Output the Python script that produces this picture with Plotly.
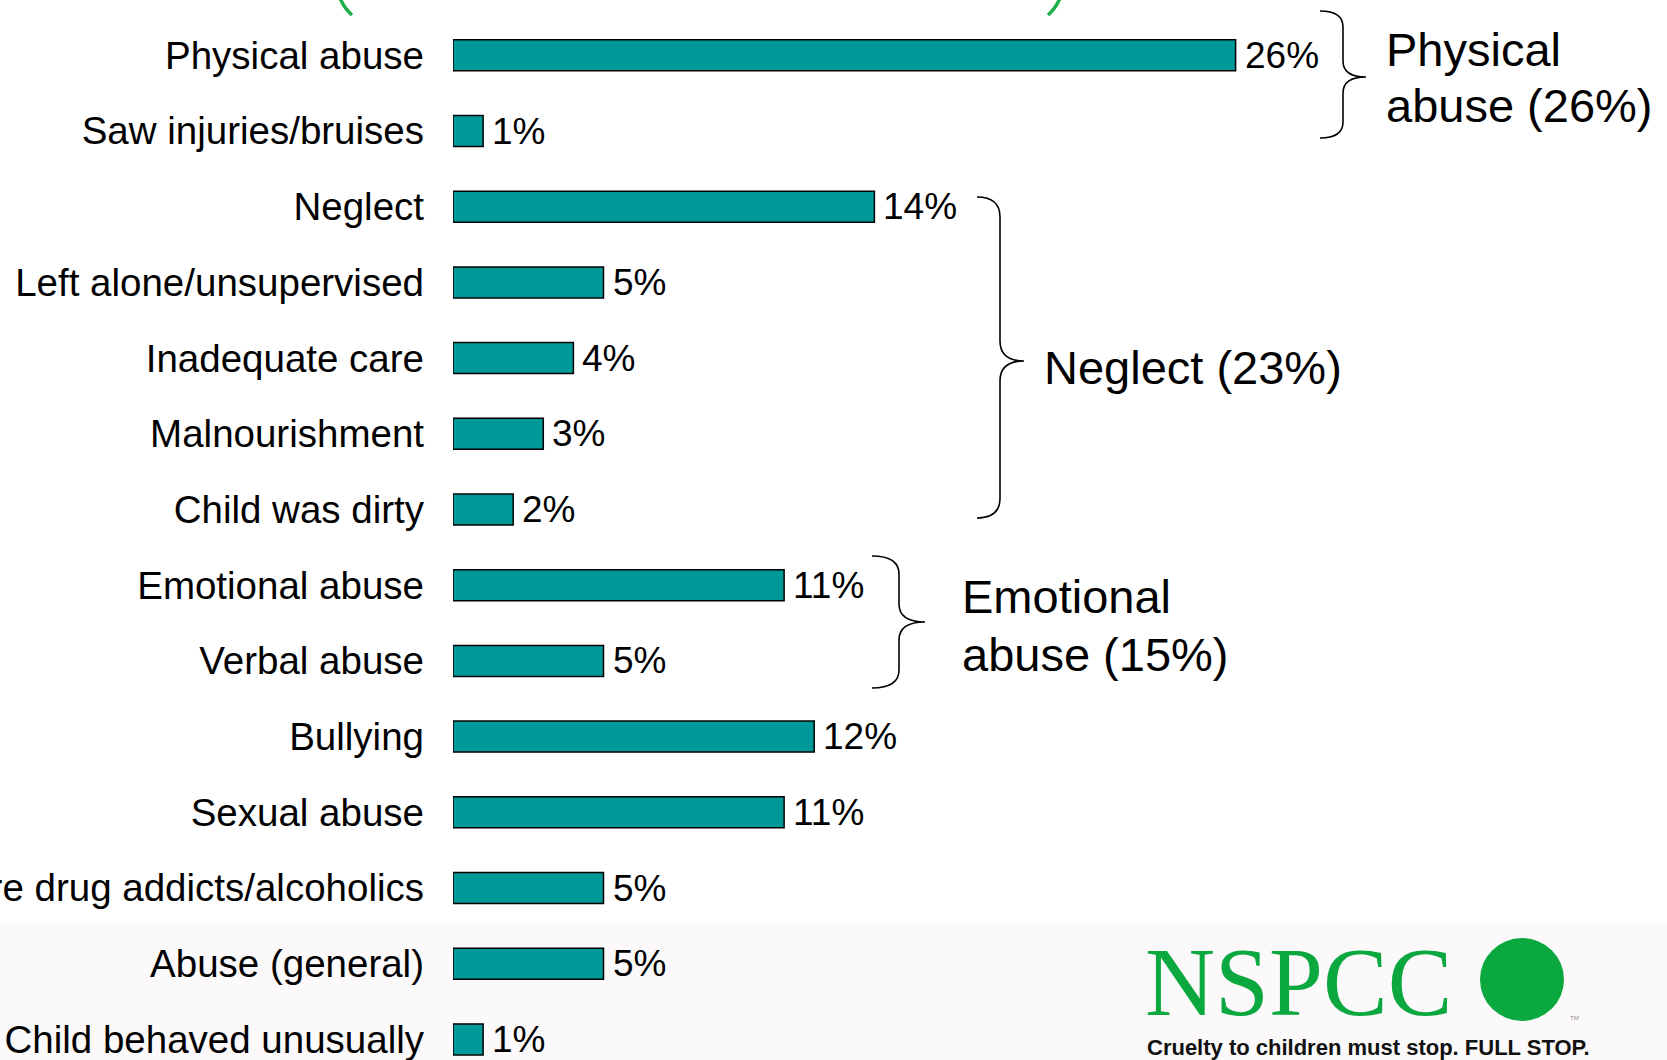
import plotly.graph_objects as go

# Reasons callers gave for concern about a child (% of contacts)
categories = [
    "Physical abuse",
    "Saw injuries/bruises",
    "Neglect",
    "Left alone/unsupervised",
    "Inadequate care",
    "Malnourishment",
    "Child was dirty",
    "Emotional abuse",
    "Verbal abuse",
    "Bullying",
    "Sexual abuse",
    "Parents were drug addicts/alcoholics",
    "Abuse (general)",
    "Child behaved unusually",
]
values = [26, 1, 14, 5, 4, 3, 2, 11, 5, 12, 11, 5, 5, 1]

group_labels = ["Physical", "abuse (26%)", "Neglect (23%)", "Emotional", "abuse (15%)"]

W, H = 1667, 1060
ML = 453
PW = W - ML
ROW0, ROWSTEP = 55.3, 75.7
PX_PER_UNIT = 30.1

BAR_COLOR = "#009999"
GREEN = "#0AA83F"
FONT = "Liberation Sans, Arial, sans-serif"


def fx(xpx):
    return (xpx - ML) / PW


def fy(ypx):
    return 1 - ypx / H


fig = go.Figure()
fig.add_trace(go.Bar(
    x=values,
    y=categories,
    orientation="h",
    width=0.41,
    marker=dict(color=BAR_COLOR, line=dict(color="black", width=1.5)),
    hoverinfo="skip",
))

annotations = []
for cat, v in zip(categories, values):
    annotations.append(dict(
        x=v, y=cat, xref="x", yref="y", text=f"{v}%", showarrow=False,
        xanchor="left", yanchor="middle", xshift=7,
        font=dict(family=FONT, size=37, color="black"),
    ))

# group summaries to the right of the braces
group_pos = [(1384, 50), (1384, 106), (1042, 368), (960, 596), (960, 654)]
for txt, (gx, gy) in zip(group_labels, group_pos):
    annotations.append(dict(
        x=fx(gx), y=fy(gy), xref="paper", yref="paper", text=txt, showarrow=False,
        xanchor="left", yanchor="middle",
        font=dict(family=FONT, size=47, color="black"),
    ))

# logo block
annotations += [
    dict(x=fx(1143), y=fy(982), xref="paper", yref="paper", text="NSPCC", showarrow=False,
         xanchor="left", yanchor="middle",
         font=dict(family="Liberation Serif, Times New Roman, serif", size=97, color=GREEN)),
    dict(x=fx(1568), y=fy(1018), xref="paper", yref="paper", text="TM", showarrow=False,
         xanchor="left", yanchor="middle",
         font=dict(family=FONT, size=6, color="#8a8a8a")),
    dict(x=fx(1145), y=fy(1047), xref="paper", yref="paper",
         text="<b>Cruelty to children must stop. FULL STOP.</b>", showarrow=False,
         xanchor="left", yanchor="middle",
         font=dict(family=FONT, size=22, color="#111111")),
]


def brace(x0, xv, xtip, ytop, ymid, ybot, r=18):
    pts = [
        f"M {fx(x0)},{fy(ytop)}",
        f"Q {fx(xv)},{fy(ytop)} {fx(xv)},{fy(ytop + r)}",
        f"L {fx(xv)},{fy(ymid - r)}",
        f"Q {fx(xv)},{fy(ymid)} {fx(xtip)},{fy(ymid)}",
        f"Q {fx(xv)},{fy(ymid)} {fx(xv)},{fy(ymid + r)}",
        f"L {fx(xv)},{fy(ybot - r)}",
        f"Q {fx(xv)},{fy(ybot)} {fx(x0)},{fy(ybot)}",
    ]
    return dict(type="path", path=" ".join(pts), xref="paper", yref="paper",
                line=dict(color="black", width=1.6))


shapes = [
    # pale band behind the lower rows and logo
    dict(type="rect", xref="paper", yref="paper", x0=fx(0), x1=fx(W), y0=fy(923), y1=fy(H),
         fillcolor="#FBF9FA", line=dict(width=0), layer="below"),
    brace(1320, 1343, 1366, 11, 77, 138, r=16),
    brace(977, 1000, 1024, 197, 361, 518, r=20),
    brace(872, 899, 925, 556, 622, 688, r=18),
    # logo disc
    dict(type="circle", xref="paper", yref="paper", x0=fx(1480), x1=fx(1564), y0=fy(1021), y1=fy(938),
         fillcolor=GREEN, line=dict(width=0)),
    # tails of the green heading brackets
    dict(type="path", xref="paper", yref="paper",
         path=f"M {fx(340)},{fy(-2)} Q {fx(344)},{fy(8)} {fx(352)},{fy(15)}",
         line=dict(color="#1DAF48", width=3.5)),
    dict(type="path", xref="paper", yref="paper",
         path=f"M {fx(1060)},{fy(-2)} Q {fx(1056)},{fy(8)} {fx(1048)},{fy(15)}",
         line=dict(color="#1DAF48", width=3.5)),
]

y_top = -ROW0 / ROWSTEP
y_bot = (H - ROW0) / ROWSTEP

fig.update_layout(
    width=W, height=H,
    margin=dict(l=ML, r=0, t=0, b=0),
    paper_bgcolor="white",
    plot_bgcolor="rgba(0,0,0,0)",
    showlegend=False,
    xaxis=dict(range=[0, PW / PX_PER_UNIT], visible=False, fixedrange=True),
    yaxis=dict(
        type="category", categoryorder="array", categoryarray=categories,
        range=[y_bot, y_top], showgrid=False, zeroline=False, showline=False,
        ticks="", ticklabelstandoff=28, automargin=False,
        tickfont=dict(family=FONT, size=38.5, color="black"),
    ),
    annotations=annotations,
    shapes=shapes,
)

fig.write_html("out.html", config={"displayModeBar": False})
